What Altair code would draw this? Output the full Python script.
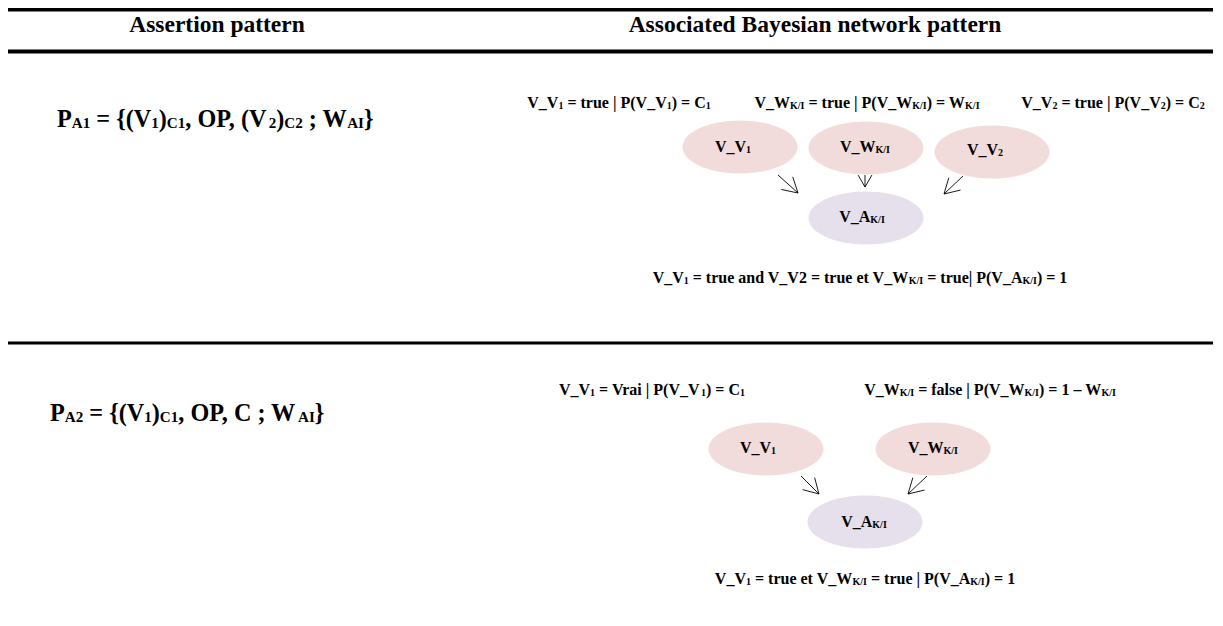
import math
import altair as alt
import pandas as pd

# ---------------- content ----------------
HEADERS = ["Assertion pattern", "Associated Bayesian network pattern"]
# [..] marks a subscript
FORMULAS = ["P[A1] = {(V[1])[C1], OP, (V[2])[C2] ; W[AI]}",
            "P[A2] = {(V[1])[C1], OP, C ; W[AI]}"]
TOP_LABELS_1 = ["V_V[1] = true | P(V_V[1]) = C[1]",
                "V_W[K/I] = true | P(V_W[K/I]) = W[K/I]",
                "V_V[2] = true | P(V_V[2]) = C[2]"]
NODES_1 = ["V_V[1]", "V_W[K/I]", "V_V[2]", "V_A[K/I]"]
KINDS_1 = ["parent", "parent", "parent", "child"]
BOTTOM_1 = "V_V[1] = true and V_V2 = true et V_W[K/I] = true| P(V_A[K/I]) = 1"
TOP_LABELS_2 = ["V_V[1] = Vrai | P(V_V[1]) = C[1]",
                "V_W[K/I] = false | P(V_W[K/I]) = 1 \u2013 W[K/I]"]
NODES_2 = ["V_V[1]", "V_W[K/I]", "V_A[K/I]"]
KINDS_2 = ["parent", "parent", "child"]
BOTTOM_2 = "V_V[1] = true et V_W[K/I] = true | P(V_A[K/I]) = 1"

KIND_COLORS = {"parent": "#F2DCDB", "child": "#E5E0EC"}

# ---------------- layout (page pixels) ----------------
X0, X1 = 8, 1213
Y0, Y1 = 8, 614
FONT = "Liberation Serif"

# approximate advance widths (Times bold, 1/1000 em)
ADV = {' ': 250, '(': 333, ')': 333, ',': 250, '/': 278, ';': 333, '=': 570,
       '|': 220, '_': 500, '{': 394, '}': 394, '\u2013': 500, '-': 333}
ADV.update({d: 500 for d in "0123456789"})
ADV.update(dict(zip("ABCDEFGHIJKLMNOPQRSTUVWXYZ",
                    [722, 667, 722, 722, 667, 611, 778, 778, 389, 500, 778, 667, 944,
                     722, 778, 611, 778, 722, 556, 667, 722, 722, 1000, 722, 722, 667])))
ADV.update(dict(zip("abcdefghijklmnopqrstuvwxyz",
                    [500, 556, 444, 556, 444, 333, 500, 556, 278, 333, 556, 278, 833,
                     556, 500, 556, 556, 444, 389, 333, 556, 500, 722, 500, 500, 444])))


def parse(markup):
    segs, cur, sub = [], "", False
    for ch in markup:
        if ch == "[":
            if cur:
                segs.append((cur, sub))
            cur, sub = "", True
        elif ch == "]":
            if cur:
                segs.append((cur, sub))
            cur, sub = "", False
        else:
            cur += ch
    if cur:
        segs.append((cur, sub))
    return segs


def adv(s, size):
    return sum(ADV.get(c, 500) for c in s) / 1000.0 * size


def text_rows(markup, x, y, F, align="center", subratio=0.625):
    f = F * subratio
    segs = parse(markup)
    widths = [adv(s, f if sb else F) for s, sb in segs]
    total = sum(widths)
    cx = x - total / 2 if align == "center" else x
    rows = []
    for (s, sb), w in zip(segs, widths):
        size = f if sb else F
        stripped = s.lstrip(" ")
        lead = adv(s[:len(s) - len(stripped)], size)
        if stripped.strip():
            rows.append({"x": cx + lead, "y": y + (0.5 if sb else 0),
                         "t": stripped.rstrip(" "), "fs": size})
        cx += w
    return rows


texts = []
# headers
texts += text_rows(HEADERS[0], 217, 32, 23.5)
texts += text_rows(HEADERS[1], 815, 32, 23.5)
# formulas
texts += text_rows(FORMULAS[0], 57, 127, 24.2, align="left")
texts += text_rows(FORMULAS[1], 50, 421, 24.2, align="left")
# row 1 labels
for lab, cx in zip(TOP_LABELS_1, [619, 867, 1113]):
    texts += text_rows(lab, cx, 108, 16)
texts += text_rows(BOTTOM_1, 860, 283, 16)
# row 2 labels
for lab, cx in zip(TOP_LABELS_2, [652, 990]):
    texts += text_rows(lab, cx, 395, 16)
texts += text_rows(BOTTOM_2, 865, 584, 16)

# nodes
node_pos_1 = [(740, 147), (866, 148), (992, 152), (866, 218)]
node_txt_1 = [(733, 152), (865, 152), (985, 155), (862, 222)]
node_pos_2 = [(766, 449), (933, 449), (865, 522)]
node_txt_2 = [(758, 453), (933, 453), (864, 527)]

nodes = []
for lab, kind, (px, py), (tx, ty) in list(zip(NODES_1, KINDS_1, node_pos_1, node_txt_1)) + \
        list(zip(NODES_2, KINDS_2, node_pos_2, node_txt_2)):
    nodes.append({"x": px, "y": py, "c": KIND_COLORS[kind]})
    texts += text_rows(lab, tx, ty, 16)

text_df = pd.DataFrame(texts)
node_df = pd.DataFrame(nodes)

# arrows (start -> tip)
arrows = [((778, 175), (798, 193)), ((865, 175), (865, 187)), ((963, 176), (944, 194)),
          ((801, 476), (819, 494)), ((927, 476), (908, 494))]
segs = []
for (sx, sy), (tx, ty) in arrows:
    segs.append({"x": sx, "y": sy, "x2": tx, "y2": ty, "w": 0.9})
    dx, dy = sx - tx, sy - ty
    L = math.hypot(dx, dy)
    ux, uy = dx / L, dy / L
    hl = min(17, L * 1.15)
    for a in (math.radians(30), -math.radians(30)):
        rx = ux * math.cos(a) - uy * math.sin(a)
        ry = ux * math.sin(a) + uy * math.cos(a)
        segs.append({"x": tx, "y": ty, "x2": tx + hl * rx, "y2": ty + hl * ry, "w": 0.9})
# table rules
for ry, rw in [(9.5, 4), (51.5, 4), (343, 3)]:
    segs.append({"x": X0, "y": ry, "x2": X1, "y2": ry, "w": rw})
seg_df = pd.DataFrame(segs)

xs = alt.Scale(domain=[X0, X1], nice=False, zero=False)
ys = alt.Scale(domain=[Y1, Y0], nice=False, zero=False)

ELLIPSE_W, ELLIPSE_H = 115, 53
r = ELLIPSE_H / ELLIPSE_W
ellipse_path = f"M -1 0 A 1 {r:.4f} 0 1 0 1 0 A 1 {r:.4f} 0 1 0 -1 0 Z"

ellipses = alt.Chart(node_df).mark_point(
    shape=ellipse_path, filled=True, opacity=1, strokeWidth=0, size=ELLIPSE_W ** 2
).encode(
    x=alt.X("x:Q", scale=xs, axis=None),
    y=alt.Y("y:Q", scale=ys, axis=None),
    color=alt.Color("c:N", scale=None, legend=None),
)

lines = alt.Chart(seg_df).mark_rule(color="black").encode(
    x=alt.X("x:Q", scale=xs, axis=None),
    y=alt.Y("y:Q", scale=ys, axis=None),
    x2="x2:Q",
    y2="y2:Q",
    strokeWidth=alt.StrokeWidth("w:Q", scale=None, legend=None),
)

labels = alt.Chart(text_df).mark_text(
    align="left", baseline="alphabetic", font=FONT, fontWeight="bold", color="black"
).encode(
    x=alt.X("x:Q", scale=xs, axis=None),
    y=alt.Y("y:Q", scale=ys, axis=None),
    text="t:N",
    size=alt.Size("fs:Q", scale=None, legend=None),
)

chart = alt.layer(ellipses, lines, labels).properties(
    width=X1 - X0, height=Y1 - Y0, padding=0,
    autosize=alt.AutoSizeParams(type="none"),
    background="white",
).configure_view(stroke=None)

chart.save("out.html", embed_options={"renderer": "svg", "actions": False})
